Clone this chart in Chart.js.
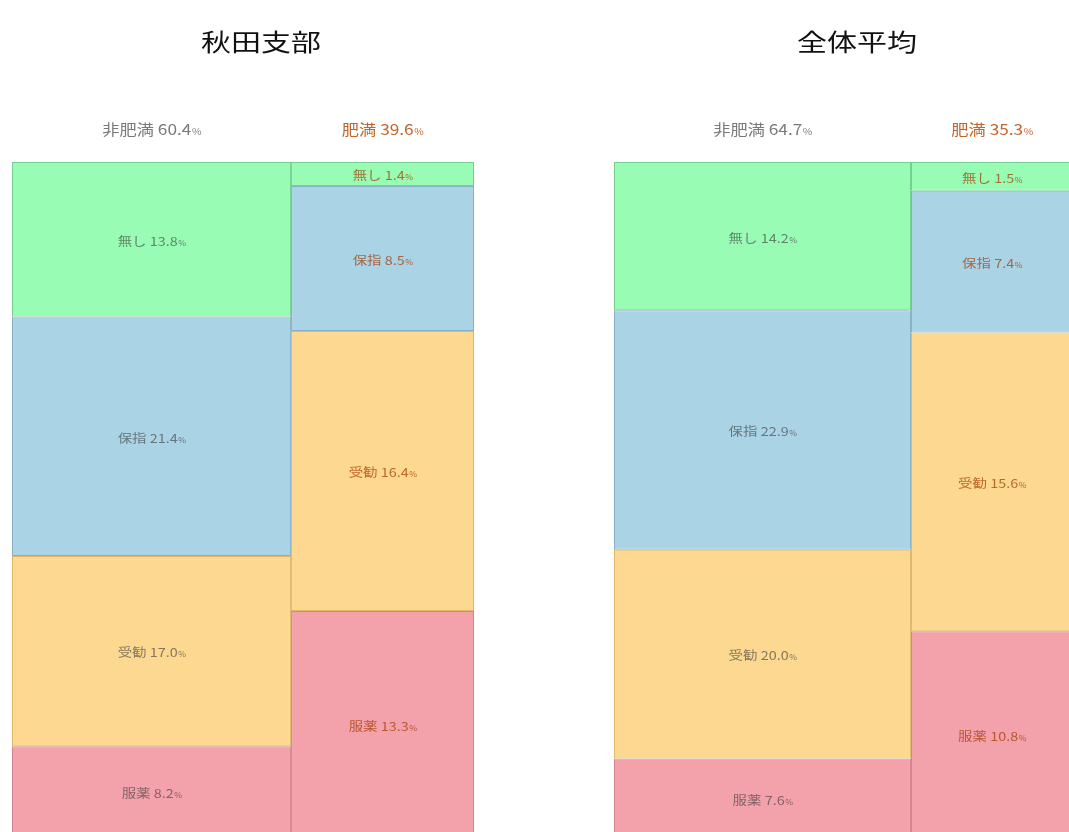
<!DOCTYPE html>
<html><head><meta charset="utf-8">
<script src="https://cdn.jsdelivr.net/npm/chart.js@4.4.0/dist/chart.umd.min.js"></script>
<style>
html,body{margin:0;padding:0;width:1069px;height:832px;overflow:hidden;background:#fff;}
.panel{position:absolute;top:0;}
canvas{display:block;}
</style></head><body>
<div class="panel" style="left:0px"><canvas id="c1" width="524" height="845" style="width:524px;height:845px"></canvas></div>
<div class="panel" style="left:534px"><canvas id="c2" width="560" height="845" style="width:560px;height:845px"></canvas></div>
<script>
// ---- data ----
const panelTitles = ["秋田支部", "全体平均"];
const groups = ["非肥満", "肥満"];
const categories = ["無し", "保指", "受勧", "服薬"];
// share of all people (%), per category, top to bottom
const akitaNonObese = [13.8, 21.4, 17.0, 8.2];
const akitaObese    = [1.4, 8.5, 16.4, 13.3];
const akitaGroupTotals = [60.4, 39.6];
const allNonObese = [14.2, 22.9, 20.0, 7.6];
const allObese    = [1.5, 7.4, 15.6, 10.8];
const allGroupTotals = [64.7, 35.3];

// ---- styles ----
const fillColors   = ["#99fcb4", "#aad3e5", "#fdd890", "#f3a1ab"];
const borderColors = ["#74cf90", "#88b0c4", "#e2b868", "#d4848f"];
const labelColors  = ["rgba(60,60,60,0.62)", "rgba(165,60,0,0.72)"];
const headerColors = ["#7a7a7a", "#c0662c"];
const FONT = '"Noto Sans CJK JP", "Noto Sans", sans-serif';
const SX = 1.2;

function buildDatasets(nonObese, obese, totals) {
  const cols = [nonObese, obese];
  const xStart = [0, totals[0]];
  return categories.map((cat, k) => ({
    label: cat,
    backgroundColor: fillColors[k],
    borderColor: borderColors[k],
    borderWidth: 1,
    borderSkipped: false,
    grouped: false,
    data: cols.map((vals, g) => {
      let before = 0;
      for (let i = 0; i < k; i++) before += vals[i];
      const y0 = before / totals[g] * 100;
      const y1 = (before + vals[k]) / totals[g] * 100;
      const x0 = xStart[g], x1 = xStart[g] + totals[g];
      return { x: (x0 + x1) / 2, y: [y0, y1], x0: x0, x1: x1, v: vals[k], g: g };
    })
  }));
}

function drawText(ctx, cx, cy, main, small, size, color, sx) {
  ctx.save();
  ctx.font = `${size}px ${FONT}`;
  const mw = ctx.measureText(main).width;
  ctx.font = `${Math.round(size * 0.6)}px ${FONT}`;
  const pw = small ? ctx.measureText(small).width : 0;
  const total = (mw + pw) * sx;
  ctx.translate(cx - total / 2, cy + size * 0.36);
  ctx.scale(sx, 1);
  ctx.fillStyle = color;
  ctx.textBaseline = "alphabetic";
  ctx.textAlign = "left";
  ctx.font = `${size}px ${FONT}`;
  ctx.fillText(main, 0, 0);
  if (small) {
    ctx.font = `${Math.round(size * 0.6)}px ${FONT}`;
    ctx.fillText(small, mw + 0.5, 0);
  }
  ctx.restore();
}

const mosaicWidth = {
  id: 'mosaicWidth',
  afterDatasetsUpdate(chart) {
    const xs = chart.scales.x;
    chart.data.datasets.forEach((ds, i) => {
      const meta = chart.getDatasetMeta(i);
      meta.data.forEach((el, j) => {
        const d = ds.data[j];
        const p0 = xs.getPixelForValue(d.x0), p1 = xs.getPixelForValue(d.x1);
        el.x = (p0 + p1) / 2;
        el.width = Math.abs(p1 - p0);
      });
    });
  }
};

const mosaicLabels = {
  id: 'mosaicLabels',
  afterDatasetsDraw(chart) {
    const ctx = chart.ctx;
    chart.data.datasets.forEach((ds, i) => {
      const meta = chart.getDatasetMeta(i);
      meta.data.forEach((el, j) => {
        const d = ds.data[j];
        const cy = (el.y + el.base) / 2 + 2;
        drawText(ctx, el.x, cy, `${ds.label} ${d.v.toFixed(1)}`, "%", 12, labelColors[d.g], SX);
      });
    });
  },
  afterDraw(chart, args, opts) {
    const ctx = chart.ctx;
    const xs = chart.scales.x;
    const totals = opts.totals;
    let x0 = 0;
    totals.forEach((t, g) => {
      const cx = xs.getPixelForValue(x0 + t / 2);
      drawText(ctx, cx, 130, `${groups[g]} ${t.toFixed(1)}`, "%", 15, headerColors[g], 1.15);
      x0 += t;
    });
    drawText(ctx, opts.titleX, 42, opts.title, "", 24, "#111", 1.25);
  }
};

function makeChart(id, nonObese, obese, totals, title, titleX, padL, padR) {
  return new Chart(document.getElementById(id), {
    type: 'bar',
    data: { datasets: buildDatasets(nonObese, obese, totals) },
    options: {
      responsive: false,
      animation: false,
      layout: { padding: { left: padL, right: padR, top: 162, bottom: 7 } },
      scales: {
        x: { type: 'linear', min: 0, max: 100, offset: false, display: false },
        y: { type: 'linear', min: 0, max: 100, reverse: true, display: false }
      },
      plugins: {
        legend: { display: false },
        tooltip: { enabled: false },
        title: { display: false },
        mosaicLabels: { totals: totals, title: title, titleX: titleX }
      }
    },
    plugins: [mosaicWidth, mosaicLabels]
  });
}

makeChart('c1', akitaNonObese, akitaObese, akitaGroupTotals, panelTitles[0], 261, 12, 50);
makeChart('c2', allNonObese, allObese, allGroupTotals, panelTitles[1], 323, 80, 21);
</script>
</body></html>
